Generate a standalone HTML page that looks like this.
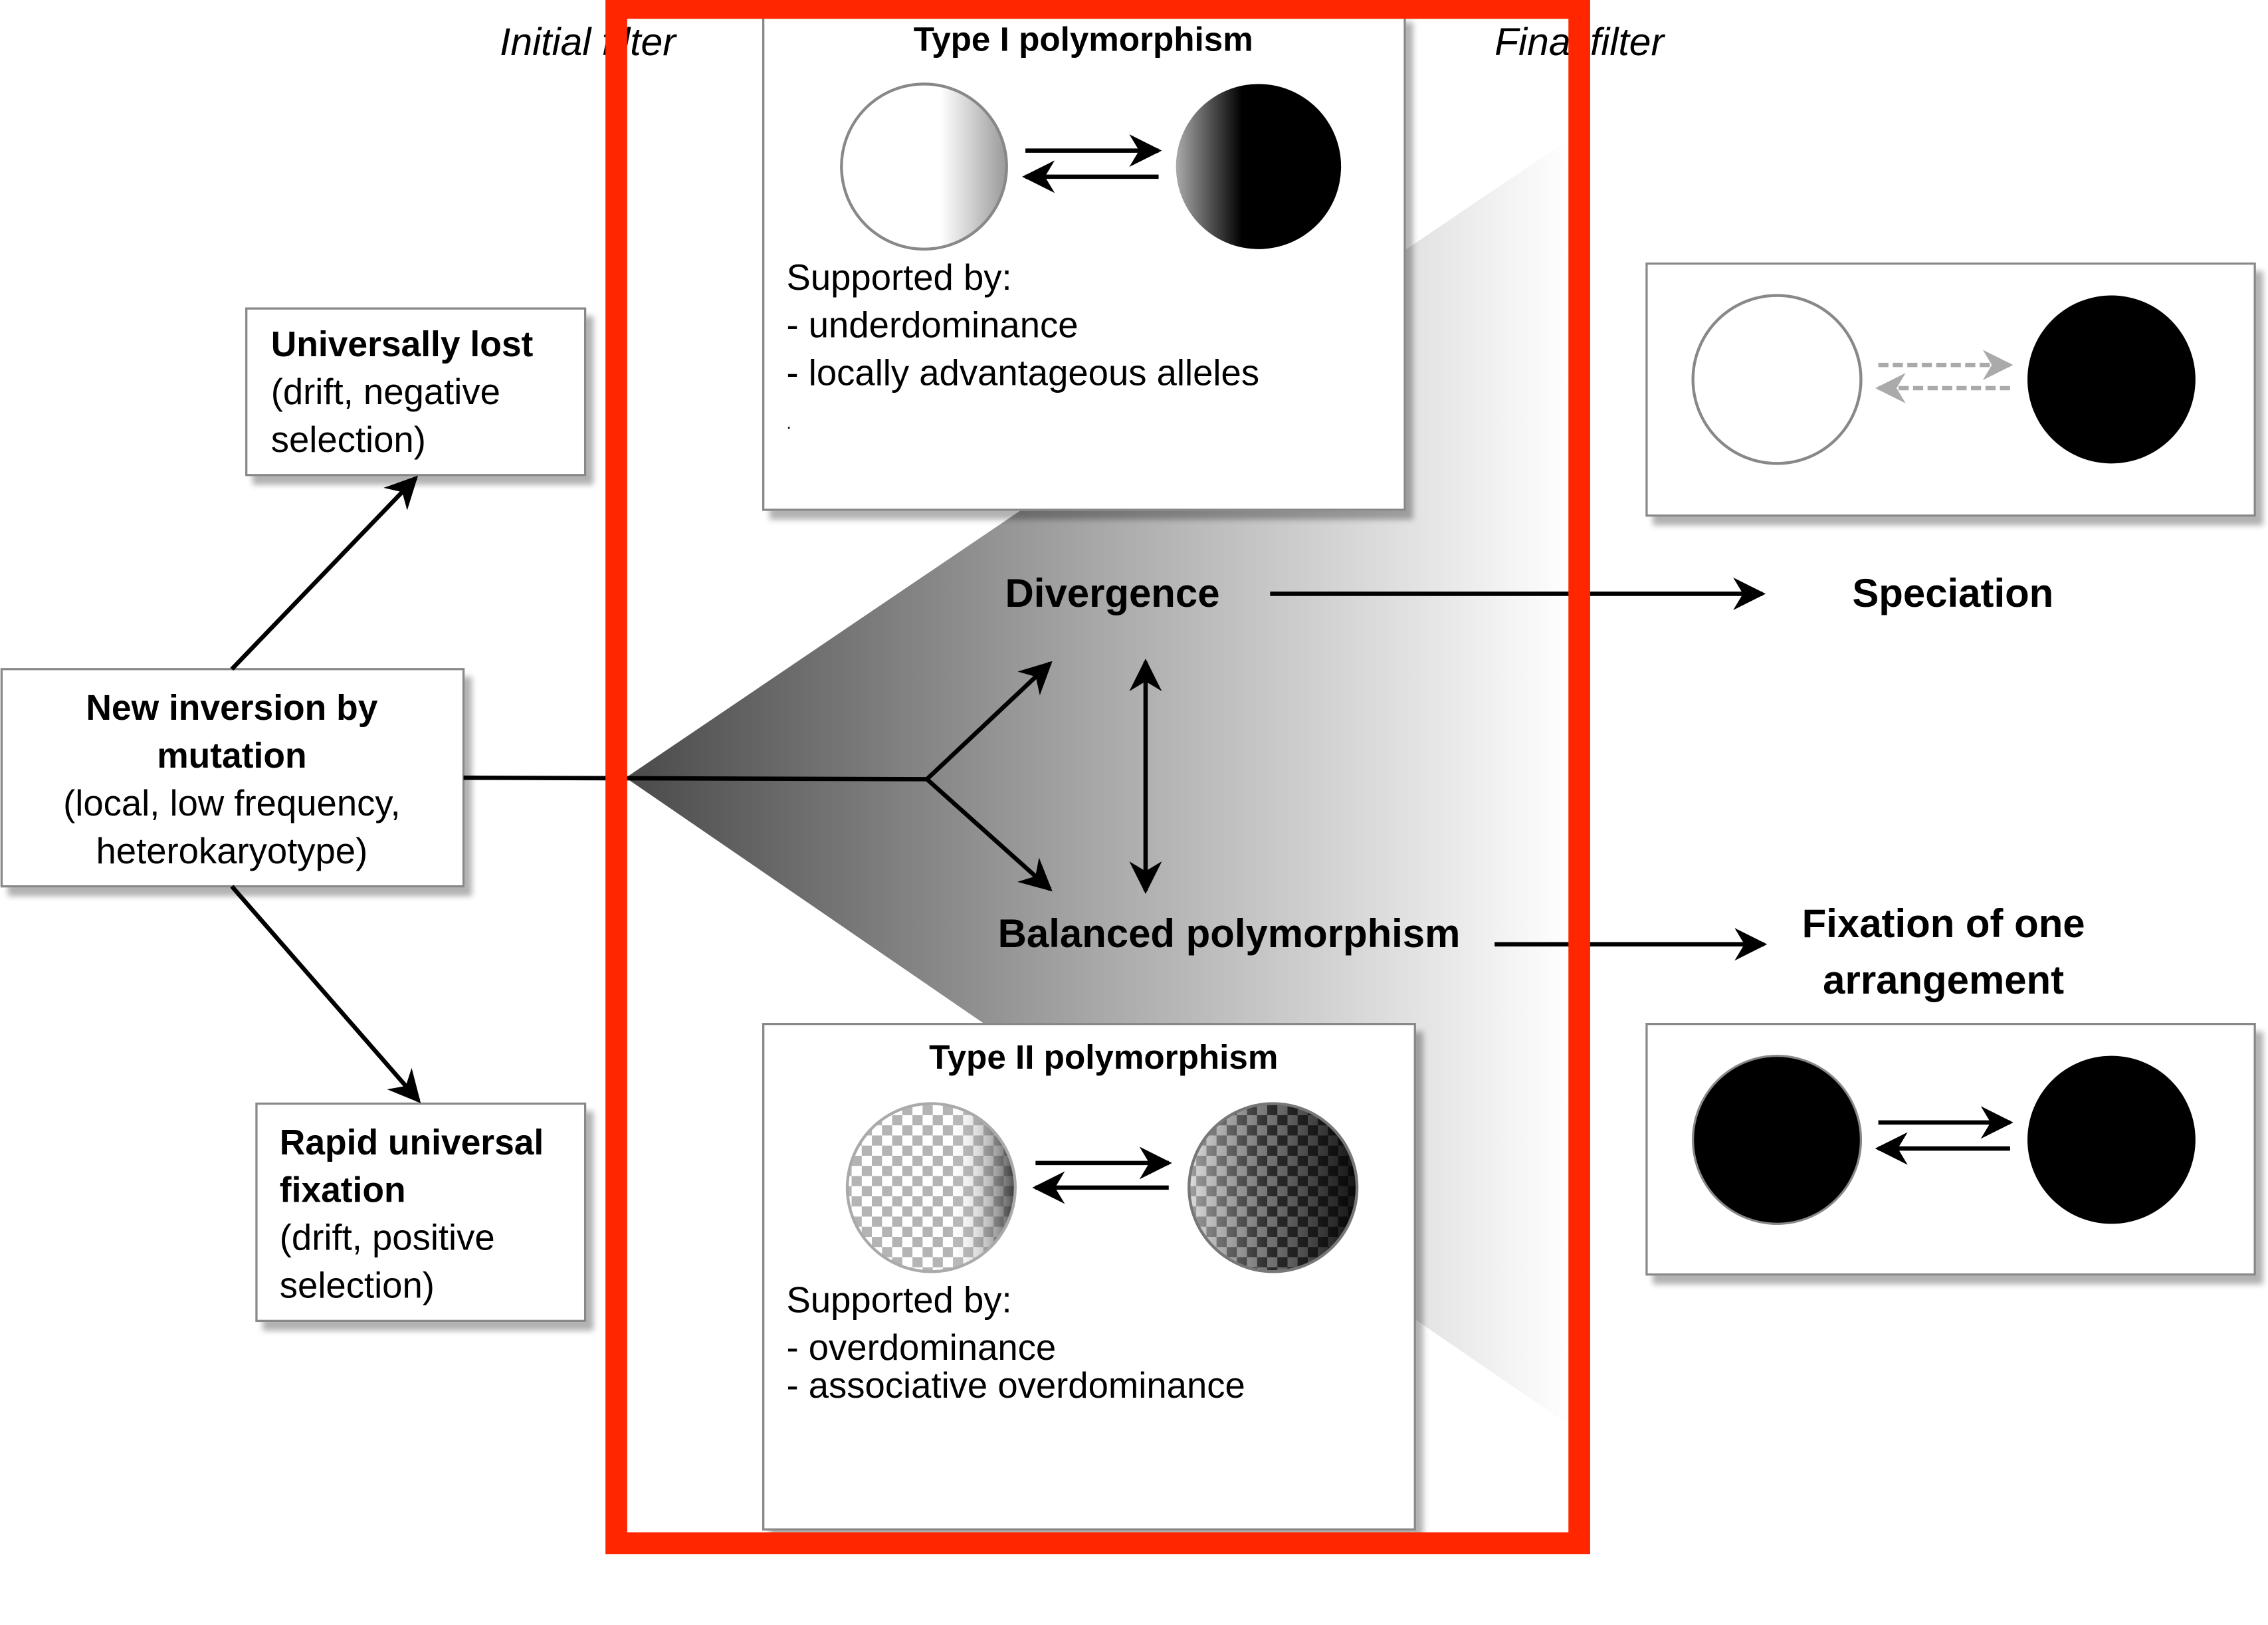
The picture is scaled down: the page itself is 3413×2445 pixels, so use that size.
<!DOCTYPE html>
<html><head><meta charset="utf-8"><style>
html,body{margin:0;padding:0;background:#fff}
svg{display:block}
text{font-family:"Liberation Sans Narrow","Liberation Sans",sans-serif}
.b{font-weight:bold}
</style></head><body>
<svg width="3413" height="2445" viewBox="0 0 1566 1122" xmlns="http://www.w3.org/2000/svg">
<defs>
<linearGradient id="wedge" x1="432" y1="0" x2="1085" y2="0" gradientUnits="userSpaceOnUse">
<stop offset="0" stop-color="#4a4a4a"/><stop offset="0.5" stop-color="#a8a8a8"/><stop offset="1" stop-color="#ffffff"/></linearGradient>
<linearGradient id="c1" x1="0" y1="0" x2="1" y2="0"><stop offset="0.6" stop-color="#fff"/><stop offset="1" stop-color="#999"/></linearGradient>
<linearGradient id="c2" x1="0" y1="0" x2="1" y2="0"><stop offset="0" stop-color="#aaa"/><stop offset="0.4" stop-color="#000"/><stop offset="1" stop-color="#000"/></linearGradient>
<linearGradient id="c3" x1="0" y1="0" x2="1" y2="0"><stop offset="0.6" stop-color="#fff" stop-opacity="0"/><stop offset="1" stop-color="#000" stop-opacity="0.7"/></linearGradient>
<linearGradient id="c4" x1="0" y1="0" x2="1" y2="0"><stop offset="0" stop-color="#fff" stop-opacity="0.5"/><stop offset="0.5" stop-color="#000" stop-opacity="0.4"/><stop offset="1" stop-color="#000" stop-opacity="0.9"/></linearGradient>
<pattern id="chk" width="14" height="14" patternUnits="userSpaceOnUse"><rect width="14" height="14" fill="#fff"/><rect width="7" height="7" fill="#b4b4b4"/><rect x="7" y="7" width="7" height="7" fill="#b4b4b4"/></pattern>
<pattern id="chk2" width="14" height="14" patternUnits="userSpaceOnUse"><rect width="14" height="14" fill="#bbb"/><rect width="7" height="7" fill="#444"/><rect x="7" y="7" width="7" height="7" fill="#444"/></pattern>
<marker id="ah" viewBox="0 0 10 10" refX="9" refY="5" markerWidth="7.5" markerHeight="7.5" orient="auto-start-reverse"><path d="M0,0 L10,5 L0,10 L3,5z" fill="#000"/></marker>
<marker id="ahg" viewBox="0 0 10 10" refX="9" refY="5" markerWidth="7" markerHeight="7" orient="auto-start-reverse"><path d="M0,0 L10,5 L0,10 L3,5z" fill="#aaa"/></marker>
<filter id="sh" x="-5%" y="-5%" width="115%" height="115%"><feDropShadow dx="5" dy="6" stdDeviation="2" flood-color="#000" flood-opacity="0.3"/></filter>
</defs>

<polygon points="432,537 1085,95 1085,985" fill="url(#wedge)"/>

<text x="345" y="38" font-size="27" font-style="italic">Initial filter</text>
<text x="1032" y="38" font-size="27" font-style="italic">Final filter</text>

<g>
<rect x="170" y="213" width="234" height="115" fill="#fff" stroke="#888" stroke-width="1.5" filter="url(#sh)"/>
<text x="187" y="246" font-size="24.5" class="b">Universally lost</text>
<text x="187" y="279" font-size="25">(drift, negative</text>
<text x="187" y="312" font-size="25">selection)</text>
</g>
<g>
<rect x="1" y="462" width="319" height="150" fill="#fff" stroke="#888" stroke-width="1.5" filter="url(#sh)"/>
<text x="160" y="497" font-size="24.5" class="b" text-anchor="middle">New inversion by</text>
<text x="160" y="530" font-size="24.5" class="b" text-anchor="middle">mutation</text>
<text x="160" y="563" font-size="25" text-anchor="middle">(local, low frequency,</text>
<text x="160" y="596" font-size="25" text-anchor="middle">heterokaryotype)</text>
</g>
<g>
<rect x="177" y="762" width="227" height="150" fill="#fff" stroke="#888" stroke-width="1.5" filter="url(#sh)"/>
<text x="193" y="797" font-size="24.5" class="b">Rapid universal</text>
<text x="193" y="830" font-size="24.5" class="b">fixation</text>
<text x="193" y="863" font-size="25">(drift, positive</text>
<text x="193" y="896" font-size="25">selection)</text>
</g>

<g stroke="#000" stroke-width="3" fill="none">
<line x1="160" y1="462" x2="287" y2="330" marker-end="url(#ah)"/>
<line x1="160" y1="612" x2="289" y2="760" marker-end="url(#ah)"/>
<polyline points="320,537 640,538"/>
<line x1="640" y1="538" x2="725" y2="458" marker-end="url(#ah)"/>
<line x1="640" y1="538" x2="725" y2="614" marker-end="url(#ah)"/>
<line x1="791" y1="457" x2="791" y2="615" marker-start="url(#ah)" marker-end="url(#ah)"/>
<line x1="877" y1="410" x2="1217" y2="410" marker-end="url(#ah)"/>
<line x1="1032" y1="652" x2="1218" y2="652" marker-end="url(#ah)"/>
</g>

<text x="694" y="419" font-size="27.5" class="b">Divergence</text>
<text x="689" y="654" font-size="27.5" class="b">Balanced polymorphism</text>
<text x="1279" y="419" font-size="27.5" class="b">Speciation</text>
<text x="1342" y="647" font-size="27.5" class="b" text-anchor="middle">Fixation of one</text>
<text x="1342" y="686" font-size="27.5" class="b" text-anchor="middle">arrangement</text>

<g>
<rect x="527" y="10" width="443" height="342" fill="#fff" stroke="#888" stroke-width="1.5" filter="url(#sh)"/>
<text x="748" y="35" font-size="23.5" class="b" text-anchor="middle">Type I polymorphism</text>
<circle cx="638" cy="115" r="57" fill="url(#c1)" stroke="#888" stroke-width="2"/>
<circle cx="869" cy="115" r="57" fill="url(#c2)"/>
<g stroke="#000" stroke-width="3"><line x1="708" y1="104" x2="800" y2="104" marker-end="url(#ah)"/><line x1="800" y1="122" x2="708" y2="122" marker-end="url(#ah)"/></g>
<text x="543" y="200" font-size="25">Supported by:</text>
<text x="543" y="233" font-size="25">- underdominance</text>
<text x="543" y="266" font-size="25">- locally advantageous alleles</text>
<text x="543" y="296" font-size="12">.</text>
</g>

<g>
<rect x="527" y="707" width="450" height="349" fill="#fff" stroke="#888" stroke-width="1.5" filter="url(#sh)"/>
<text x="762" y="738" font-size="23.5" class="b" text-anchor="middle">Type II polymorphism</text>
<circle cx="643" cy="820" r="58" fill="url(#chk)"/>
<circle cx="643" cy="820" r="58" fill="url(#c3)" stroke="#aaa" stroke-width="2"/>
<circle cx="879" cy="820" r="58" fill="url(#chk2)"/>
<circle cx="879" cy="820" r="58" fill="url(#c4)" stroke="#777" stroke-width="2"/>
<g stroke="#000" stroke-width="3"><line x1="715" y1="803" x2="807" y2="803" marker-end="url(#ah)"/><line x1="807" y1="820" x2="715" y2="820" marker-end="url(#ah)"/></g>
<text x="543" y="906" font-size="25">Supported by:</text>
<text x="543" y="939" font-size="25">- overdominance</text>
<text x="543" y="965" font-size="25">- associative overdominance</text>
</g>

<g>
<rect x="1137" y="182" width="420" height="174" fill="#fff" stroke="#888" stroke-width="1.5" filter="url(#sh)"/>
<circle cx="1227" cy="262" r="58" fill="#fff" stroke="#888" stroke-width="2"/>
<circle cx="1458" cy="262" r="58" fill="#000"/>
<g stroke="#aaa" stroke-width="3" stroke-dasharray="7,3"><line x1="1297" y1="252" x2="1388" y2="252" marker-end="url(#ahg)"/><line x1="1388" y1="268" x2="1297" y2="268" marker-end="url(#ahg)"/></g>
</g>
<g>
<rect x="1137" y="707" width="420" height="173" fill="#fff" stroke="#888" stroke-width="1.5" filter="url(#sh)"/>
<circle cx="1227" cy="787" r="58" fill="#000" stroke="#888" stroke-width="1.5"/>
<circle cx="1458" cy="787" r="58" fill="#000"/>
<g stroke="#000" stroke-width="3"><line x1="1297" y1="775" x2="1388" y2="775" marker-end="url(#ah)"/><line x1="1388" y1="793" x2="1297" y2="793" marker-end="url(#ah)"/></g>
</g>

<path fill="#ff2600" fill-rule="evenodd" d="M418,0 H1098 V1073 H418 Z M433,13 V1058 H1083 V13 Z"/>
</svg>
</body></html>
